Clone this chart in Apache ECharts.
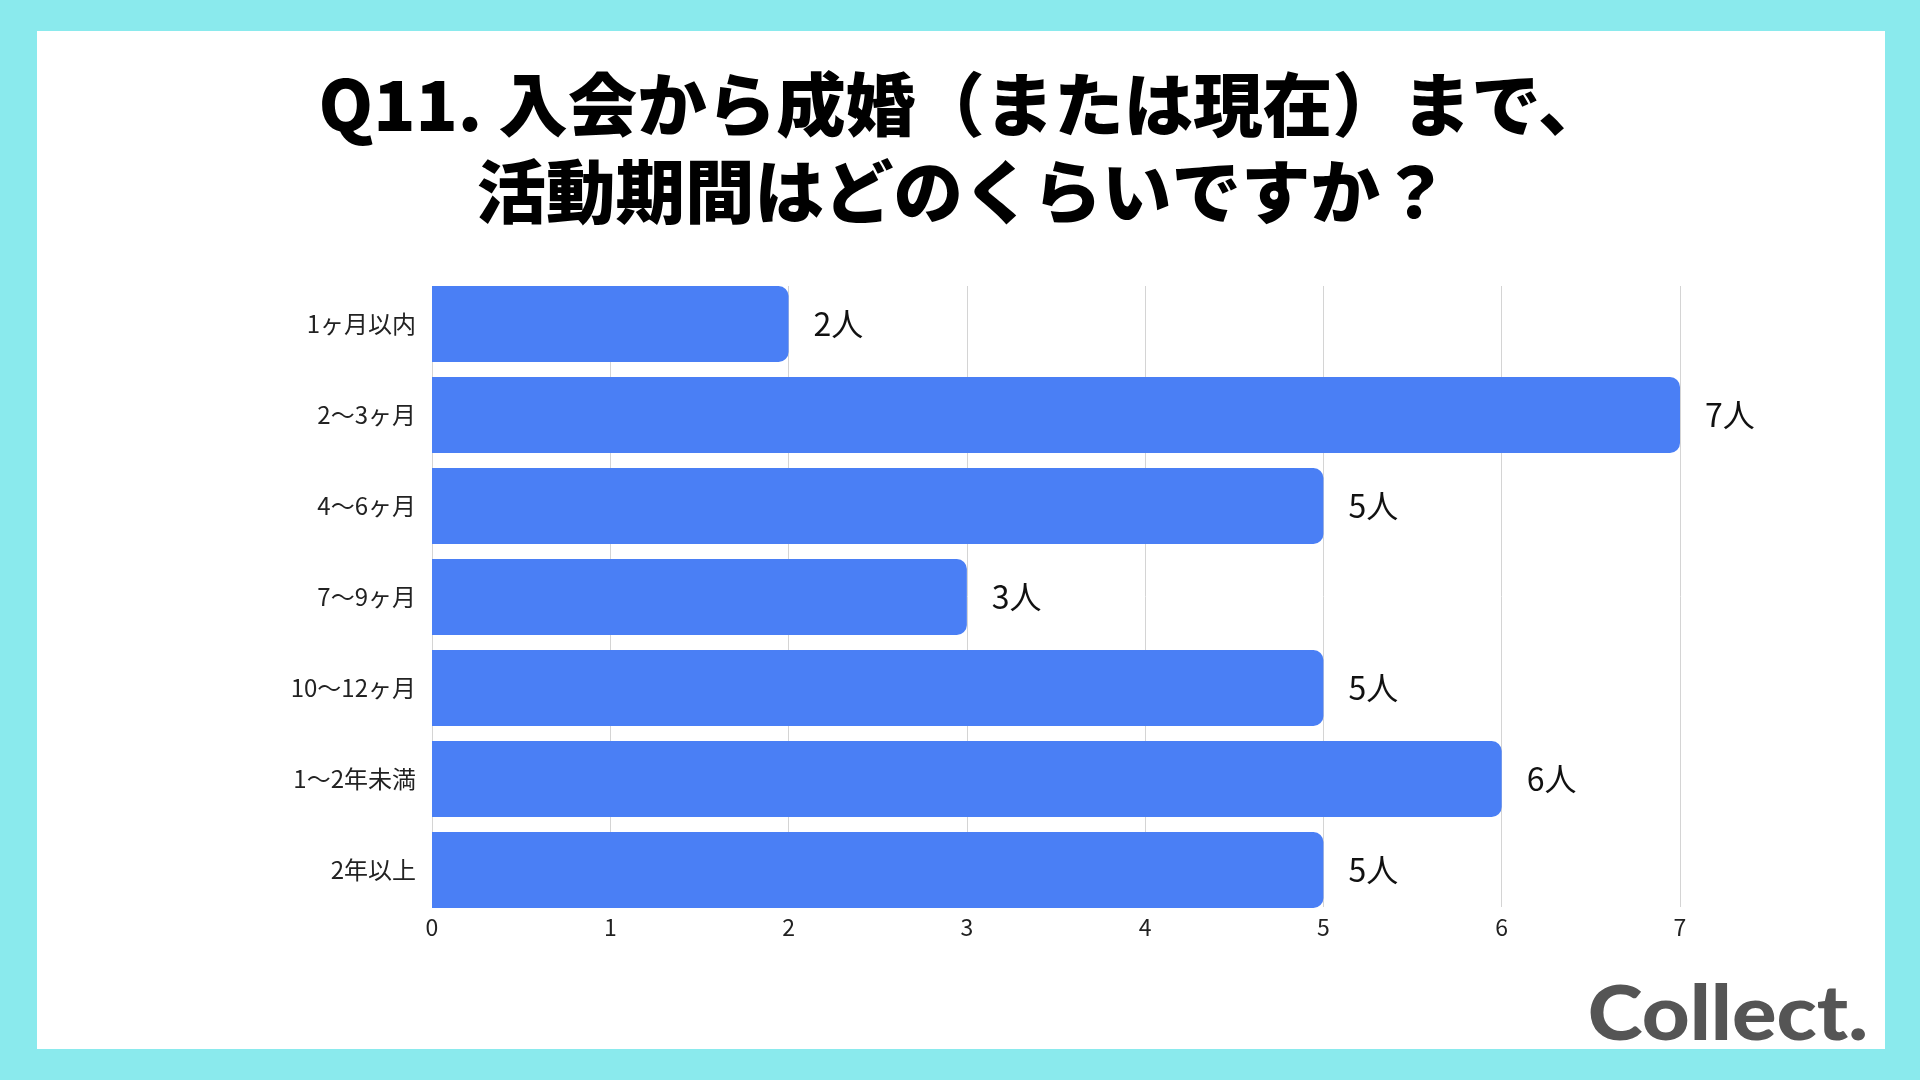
<!DOCTYPE html>
<html>
<head>
<meta charset="utf-8">
<script src="https://cdn.jsdelivr.net/npm/echarts@6/dist/echarts.min.js"></script>
<style>
  html, body { margin: 0; padding: 0; width: 1920px; height: 1080px; background: #8aeaed; overflow: hidden; }
  #panel { position: absolute; left: 37px; top: 31px; width: 1848px; height: 1018px; background: #ffffff; }
  #chart { position: absolute; left: 0; top: 0; width: 1920px; height: 1080px; }
</style>
</head>
<body>
<div id="panel"></div>
<div id="chart"></div>
<script>
const titleLines = ['Q11. 入会から成婚（または現在）まで、', '活動期間はどのくらいですか？'];
const categories = ['1ヶ月以内', '2〜3ヶ月', '4〜6ヶ月', '7〜9ヶ月', '10〜12ヶ月', '1〜2年未満', '2年以上'];
const values = [2, 7, 5, 3, 5, 6, 5];
const unit = '人';
const axisMin = 0;
const axisMax = 7;
const axisInterval = 1;
const logoText = 'Collect.';

const FONT = '"Noto Sans CJK JP", "Noto Sans", sans-serif';
const chart = echarts.init(document.getElementById('chart'), null, { renderer: 'canvas' });

chart.setOption({
  backgroundColor: 'transparent',
  animation: false,
  textStyle: { fontFamily: FONT },
  grid: [
    { left: 432, right: 240, top: 278.5, height: 637, containLabel: false },
    { left: 432, right: 240, top: 286, height: 621, containLabel: false }
  ],
  xAxis: [
    { gridIndex: 0, type: 'value', min: axisMin, max: axisMax, interval: axisInterval, show: false },
    {
      gridIndex: 1, type: 'value', min: axisMin, max: axisMax, interval: axisInterval,
      axisLine: { show: false }, axisTick: { show: false },
      splitLine: { show: true, lineStyle: { color: '#d4d4d4', width: 1 } },
      axisLabel: { fontSize: 23, color: '#222', margin: 9, fontFamily: FONT }
    }
  ],
  yAxis: [
    {
      gridIndex: 0, type: 'category', data: categories, inverse: true,
      axisLine: { show: false }, axisTick: { show: false }, splitLine: { show: false },
      axisLabel: { fontSize: 24, color: '#222', margin: 16, fontFamily: FONT }
    },
    {
      gridIndex: 1, type: 'category', data: categories, inverse: true, show: false
    }
  ],
  series: [
    {
      type: 'bar',
      xAxisIndex: 0, yAxisIndex: 0,
      data: values,
      barWidth: 76,
      itemStyle: { color: '#4a7ff5', borderRadius: [0, 10, 10, 0] },
      label: {
        show: true, position: 'right', distance: 25,
        formatter: function (p) { return p.value + unit; },
        fontSize: 32, color: '#111', fontFamily: FONT
      }
    }
  ],
  graphic: [
    {
      type: 'text', x: 963, y: 70,
      style: {
        text: titleLines[0], font: '900 69.5px ' + FONT, fill: '#000',
        align: 'center', verticalAlign: 'top'
      }
    },
    {
      type: 'text', x: 963, y: 157,
      style: {
        text: titleLines[1], font: '900 69.5px ' + FONT, fill: '#000',
        align: 'center', verticalAlign: 'top'
      }
    },
    {
      type: 'text', x: 1868, y: 977, scaleX: 1.08,
      style: {
        text: logoText, font: '900 77px Lato, "Noto Sans", sans-serif', fill: '#555555',
        align: 'right', verticalAlign: 'top'
      }
    }
  ]
});
</script>
</body>
</html>
